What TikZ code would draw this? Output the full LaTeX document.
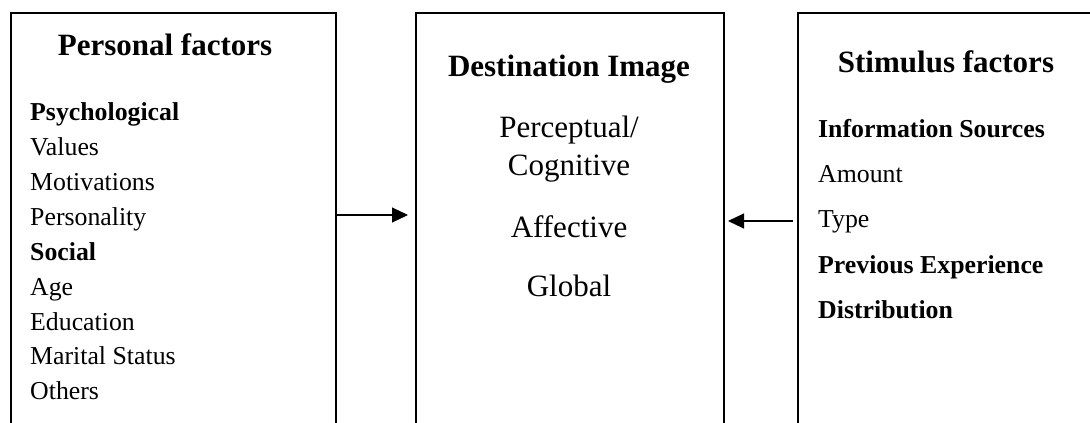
\documentclass[tikz,border=0pt]{standalone}
\usepackage{fontspec}
\setmainfont{Liberation Serif}
\usetikzlibrary{arrows.meta}
\begin{document}
\begin{tikzpicture}[x=1pt,y=-1pt,
  box/.style={draw,line width=2pt,minimum width=#1,minimum height=430pt,anchor=north west,inner sep=0pt},
  arr/.style={line width=1.1pt,-{Triangle[length=16pt,width=15pt]}},
  title/.style={font=\fontsize{31}{37}\selectfont\bfseries,anchor=base,inner sep=0pt},
  big/.style={font=\fontsize{31}{37}\selectfont,anchor=base,inner sep=0pt},
  item/.style={font=\fontsize{25.8}{30}\selectfont,anchor=base west,inner sep=0pt},
  bitem/.style={font=\fontsize{25.8}{30}\selectfont\bfseries,anchor=base west,inner sep=0pt}]
\useasboundingbox (0,0) rectangle (1090,423);
\clip (0,0) rectangle (1090,423);
\node[box=325.5pt] (L) at (9.5,12) {};
\node[box=308pt] (M) at (415,12) {};
\node[box=313pt] (R) at (797,12) {};
\draw[arr] ([yshift=13pt]L.east) -- ([xshift=-7pt,yshift=13pt]M.west);
\draw[arr] ([xshift=-4pt,yshift=7pt]R.west) -- ([xshift=3pt,yshift=7pt]M.east);
% left
\node[title] (t1) at (165,55) {Personal factors};
\node[bitem] (l1) at (30,120) {Psychological};
\node[item] (l2) at (30,155) {Values};
\node[item] (l3) at (30,190) {Motivations};
\node[item] (l4) at (30,225) {Personality};
\node[bitem] (l5) at (30,260) {Social};
\node[item] (l6) at (30,295) {Age};
\node[item] (l7) at (30,330) {Education};
\node[item] (l8) at (30,364) {Marital Status};
\node[item] (l9) at (30,399) {Others};
% middle
\node[title] (t2) at (569,76) {Destination Image};
\node[big] (m1) at (569,137) {Perceptual/};
\node[big] (m2) at (569,175) {Cognitive};
\node[big] (m3) at (569,237) {Affective};
\node[big] (m4) at (569,296) {Global};
% right
\node[title] (t3) at (946,72) {Stimulus factors};
\node[bitem] (r1) at (818,137) {Information Sources};
\node[item] (r2) at (818,182) {Amount};
\node[item] (r3) at (818,227) {Type};
\node[bitem] (r4) at (818,273) {Previous Experience};
\node[bitem] (r5) at (818,318) {Distribution};
\end{tikzpicture}
\end{document}
